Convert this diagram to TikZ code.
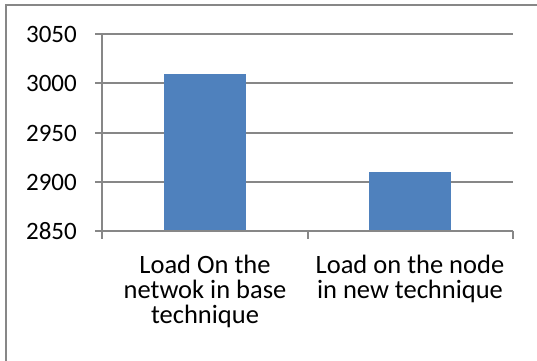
\documentclass[tikz,border=0pt]{standalone}
\usepackage{fontspec}
\setmainfont{Carlito}
\definecolor{barblue}{HTML}{4F81BD}
\definecolor{gridgray}{HTML}{878787}

\begin{document}
\begin{tikzpicture}[x=1pt, y=-1pt, font=\fontsize{25}{24.7}\selectfont]
\useasboundingbox (0,0) rectangle (537,360);
\draw[gridgray, line width=1.5pt] (6,5) rectangle (545,370);
\coordinate (O) at (102,231);
\coordinate (E) at (513,231);
\coordinate (M) at (308,231);
\draw[gridgray, line width=2pt] (95,34) -- (513,34);
\draw[gridgray, line width=2pt] (95,83) -- (513,83);
\draw[gridgray, line width=2pt] (95,133) -- (513,133);
\draw[gridgray, line width=2pt] (95,182) -- (513,182);
\fill[barblue] (164,231) rectangle (246,74);
\fill[barblue] (369,231) rectangle (451,172);
\draw[gridgray, line width=2pt] (95,231) -- (E);
\draw[gridgray, line width=2pt] (102,34) -- (102,239);
\draw[gridgray, line width=2pt] (M) -- ++(0,8);
\draw[gridgray, line width=2pt] (E) -- ++(0,8);
\node[anchor=east, inner sep=0pt] (y3050) at (77,34) {3050};
\node[anchor=east, inner sep=0pt] (y3000) at (77,83) {3000};
\node[anchor=east, inner sep=0pt] (y2950) at (77,133) {2950};
\node[anchor=east, inner sep=0pt] (y2900) at (77,182) {2900};
\node[anchor=east, inner sep=0pt] (y2850) at (77,231) {2850};
\node[anchor=north, inner sep=0pt, align=center, font=\fontsize{26.5}{24.7}\selectfont] (base) at (205,255) {Load On the\\netwok in base\\technique};
\node[anchor=north, inner sep=0pt, align=center, font=\fontsize{26.5}{24.7}\selectfont] (new) at (410,255) {Load on the node\\in new technique};
\end{tikzpicture}
\end{document}
